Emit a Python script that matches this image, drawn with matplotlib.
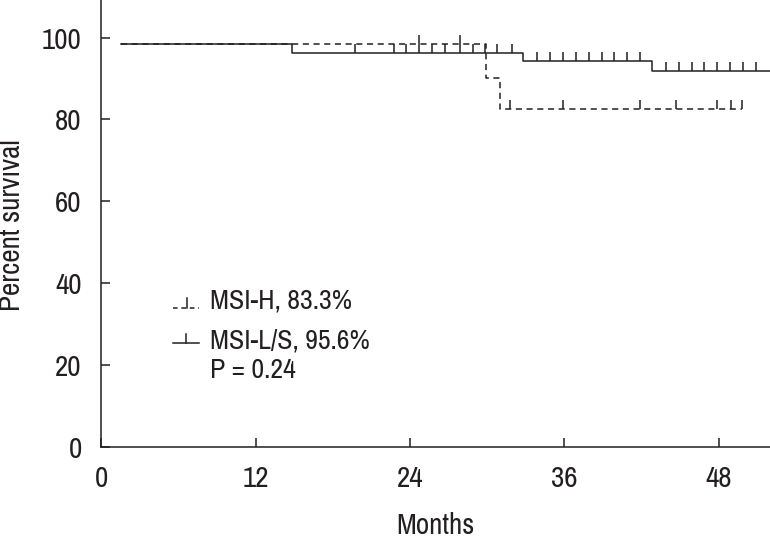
import matplotlib
matplotlib.use("Agg")
import matplotlib.pyplot as plt
from matplotlib import font_manager

# ---------------- data ----------------
msil_times = [1.5, 14.84, 32.8, 42.8, 52.5]
msil_surv = [98.5, 96.2, 94.3, 91.9, 91.9]
msil_censor_t = [19.7, 22.8, 23.7, 24.7, 25.7, 26.7, 27.9, 28.9, 29.8, 30.8, 31.9,
                 33.9, 34.9, 35.9, 36.9, 37.9, 38.9, 39.9, 40.9, 41.9,
                 43.9, 44.9, 45.9, 46.9, 47.9, 48.9, 49.9, 50.9]
msil_censor_s = [96.2] * 11 + [94.3] * 9 + [91.9] * 8

msih_times = [1.5, 29.9, 31.0, 49.8]
msih_surv = [98.5, 90.2, 82.5, 82.5]
msih_censor_t = [24.7, 27.9, 31.8, 35.9, 41.9, 44.7, 47.9, 49.0, 49.8]
msih_censor_s = [98.5, 98.5, 82.5, 82.5, 82.5, 82.5, 82.5, 82.5, 82.5]

x_ticks = [0, 12, 24, 36, 48]
y_ticks = [0, 20, 40, 60, 80, 100]
legend_labels = ["MSI-H, 83.3%", "MSI-L/S, 95.6%"]
p_text = "P = 0.24"

# ---------------- style ----------------
avail = {f.name for f in font_manager.fontManager.ttflist}
prefs = ["Archivo Narrow", "Roboto Condensed", "PT Sans Narrow",
         "Liberation Sans", "DejaVu Sans"]
fam = [f for f in prefs if f in avail][:1] + ["DejaVu Sans"]
plt.rcParams['font.family'] = fam
INK = "#231f20"
FS = 21
FS_LEG = 20
LW = 1.1
CENS = 2.2

fig = plt.figure(figsize=(7.7, 5.38), dpi=100)
W, H = 770, 538
ax_l, ax_b = 101.3, 446.7
ax = fig.add_axes([ax_l / W, (H - ax_b) / H, 1 - ax_l / W, ax_b / H])
ax.set_xlim(0, 52.0)
ax.set_ylim(0, 109.2)

for s in ["top", "right"]:
    ax.spines[s].set_visible(False)
for s in ["left", "bottom"]:
    ax.spines[s].set_color(INK)
    ax.spines[s].set_linewidth(LW)

ax.set_xticks(x_ticks)
ax.set_yticks(y_ticks)
ax.tick_params(axis='both', direction='in', length=6.5, width=LW, color=INK,
               labelsize=FS, labelcolor=INK)
ax.tick_params(axis='y', pad=14)
ax.tick_params(axis='x', pad=13)

# curves
ax.step(msil_times, msil_surv, where='post', color=INK, lw=LW, clip_on=True)
ax.step(msih_times, msih_surv, where='post', color=INK, lw=LW,
        linestyle=(0, (4, 3)))
ax.vlines(msil_censor_t, msil_censor_s, [s + CENS for s in msil_censor_s],
          color=INK, lw=LW)
ax.vlines(msih_censor_t, msih_censor_s, [s + CENS for s in msih_censor_s],
          color=INK, lw=LW)

# legend (manual)
def ax_x(px):
    return (px - ax_l) / (W - ax_l)

def ax_y(py):
    return (ax_b - py) / ax_b

tr = ax.transAxes
ax.plot([ax_x(173), ax_x(199)], [ax_y(307.7), ax_y(307.7)], color=INK, lw=LW,
        linestyle=(0, (3, 2.5)), transform=tr)
ax.plot([ax_x(186.7), ax_x(186.7)], [ax_y(307.7), ax_y(298)], color=INK, lw=LW, transform=tr)
ax.plot([ax_x(173), ax_x(199)], [ax_y(343.3), ax_y(343.3)], color=INK, lw=LW, transform=tr)
ax.plot([ax_x(185.7), ax_x(185.7)], [ax_y(343.3), ax_y(333.5)], color=INK, lw=LW, transform=tr)
ax.text(ax_x(210), ax_y(308.3), legend_labels[0], transform=tr, fontsize=FS_LEG,
        color=INK, va='baseline', ha='left')
ax.text(ax_x(210), ax_y(349), legend_labels[1], transform=tr, fontsize=FS_LEG,
        color=INK, va='baseline', ha='left')
ax.text(ax_x(210), ax_y(378.3), p_text, transform=tr, fontsize=FS_LEG,
        color=INK, va='baseline', ha='left')

fig.text(12 / W, (H - 225) / H, "Percent survival", rotation=90, fontsize=FS,
         color=INK, ha='center', va='center')
fig.text(435 / W, (H - 525) / H, "Months", fontsize=FS, color=INK,
         ha='center', va='center')

fig.savefig("out.png", dpi=100)
